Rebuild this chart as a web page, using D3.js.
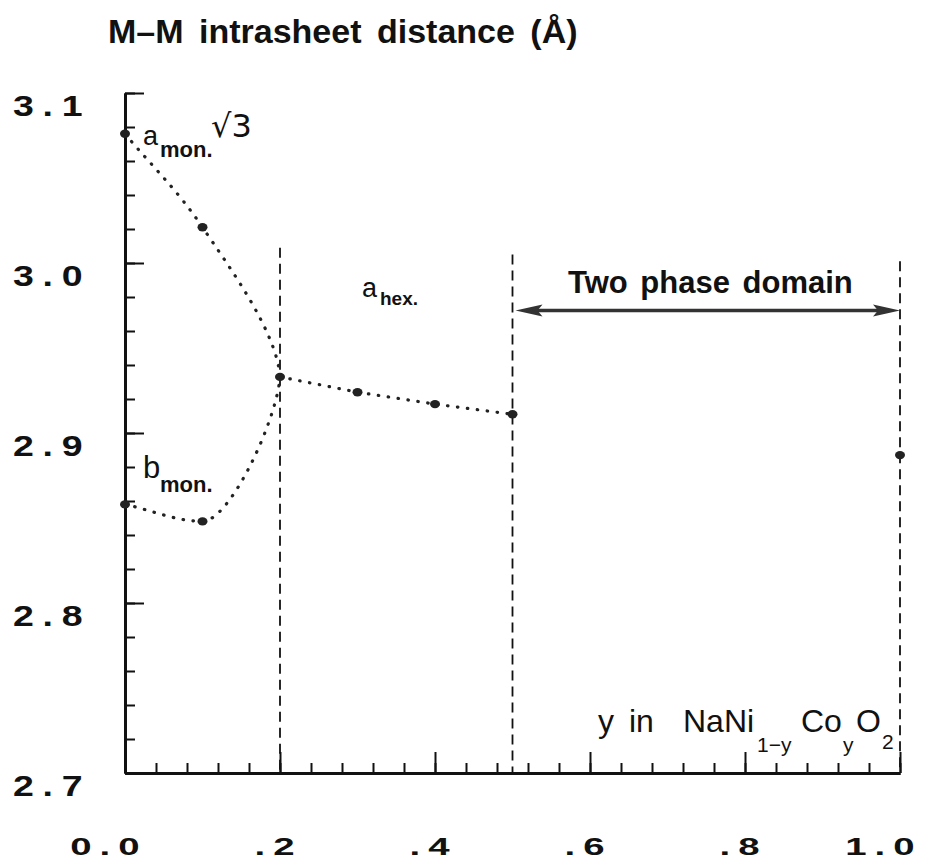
<!DOCTYPE html>
<html>
<head>
<meta charset="utf-8">
<script src="https://cdn.jsdelivr.net/npm/d3@7"></script>
<style>
  html, body { margin: 0; padding: 0; background: #ffffff; }
  svg { display: block; }
  text { font-family: "Liberation Sans", Arial, sans-serif; fill: #111; }
</style>
</head>
<body>
<svg id="chart" width="936" height="861"></svg>
<script>
// ---------------- data ----------------
const aMonX   = [0.0, 0.1, 0.2];
const aMonVal = [3.076, 3.021, 2.933];
const bMonX   = [0.0, 0.1, 0.2];
const bMonVal = [2.858, 2.848, 2.933];
const aHexX   = [0.2, 0.3, 0.4, 0.5];
const aHexVal = [2.933, 2.924, 2.917, 2.911];
const endX    = [1.0];
const endVal  = [2.887];
const boundaryX   = [0.2, 0.5, 1.0];
const boundaryTop = [3.009, 3.005, 3.001];
const twoPhaseRange = [0.5, 1.0];
const twoPhaseLevel = 2.972;
const yMajorTicks = [2.7, 2.8, 2.9, 3.0, 3.1];
const yTickLabels = ["2.7", "2.8", "2.9", "3.0", "3.1"];
const xMajorTicks = [0.0, 0.2, 0.4, 0.6, 0.8, 1.0];
const xTickLabels = ["0.0", ".2", ".4", ".6", ".8", "1.0"];

// ---------------- setup ----------------
const svg = d3.select("#chart");
const x = d3.scaleLinear().domain([0, 1]).range([125, 900]);
const y = d3.scaleLinear().domain([2.7, 3.1]).range([773, 93]);

const yMinor = d3.range(0, 21).map(i => +(2.7 + i * 0.02).toFixed(2));
const xMinor = d3.range(0, 26).map(i => +(i * 0.04).toFixed(2));

// ---------------- axes ----------------
const gy = svg.append("g").attr("transform", `translate(${x(0)},0)`);
gy.call(d3.axisLeft(y).tickValues(yMinor).tickSize(-10).tickSizeOuter(0).tickFormat(""));
const gyM = svg.append("g").attr("transform", `translate(${x(0)},0)`);
gyM.call(d3.axisLeft(y).tickValues(yMajorTicks).tickSize(-19).tickSizeOuter(0)
  .tickFormat((d, i) => yTickLabels[i]));

const gx = svg.append("g").attr("transform", `translate(0,${y(2.7)})`);
gx.call(d3.axisBottom(x).tickValues(xMinor).tickSize(-10).tickSizeOuter(0).tickFormat(""));
const gxM = svg.append("g").attr("transform", `translate(0,${y(2.7)})`);
gxM.call(d3.axisBottom(x).tickValues(xMajorTicks).tickSize(-21).tickSizeOuter(0)
  .tickFormat((d, i) => xTickLabels[i]));

[gy, gyM, gx, gxM].forEach(g => {
  g.selectAll(".tick line").attr("stroke", "#111").attr("stroke-width", 2);
  g.select(".domain").attr("stroke", "#111").attr("stroke-width", 3);
});

const sy = 1.25;
gyM.selectAll(".tick text")
  .attr("text-anchor", "start")
  .attr("font-family", "Liberation Sans, Arial, sans-serif")
  .attr("font-weight", "bold")
  .attr("font-size", 30)
  .attr("fill", "#111")
  .attr("letter-spacing", 7)
  .attr("dy", null)
  .attr("x", -112 / sy)
  .attr("y", 22)
  .attr("transform", `scale(${sy},1)`);

const sx = 1.6;
gxM.selectAll(".tick text")
  .attr("text-anchor", "end")
  .attr("font-family", "Liberation Sans, Arial, sans-serif")
  .attr("font-weight", "bold")
  .attr("font-size", 24)
  .attr("fill", "#111")
  .attr("letter-spacing", 5)
  .attr("dy", null)
  .attr("x", 22 / sx)
  .attr("y", 82)
  .attr("transform", `scale(${sx},1)`);

// ---------------- boundaries ----------------
svg.append("g").selectAll("line").data(boundaryX).join("line")
  .attr("x1", d => x(d)).attr("x2", d => x(d))
  .attr("y1", (d, i) => y(boundaryTop[i])).attr("y2", y(2.7))
  .attr("stroke", "#111").attr("stroke-width", 1.8)
  .attr("stroke-dasharray", "10,6");

// ---------------- two phase arrow ----------------
const ay = y(twoPhaseLevel);
const xl = x(twoPhaseRange[0]) + 3, xr = x(twoPhaseRange[1]);
svg.append("line").attr("x1", xl + 20).attr("x2", xr - 20).attr("y1", ay).attr("y2", ay)
  .attr("stroke", "#333").attr("stroke-width", 3.5);
svg.append("path").attr("d", `M${xl},${ay} L${xl + 27},${ay - 6} L${xl + 22},${ay} L${xl + 27},${ay + 6} Z`)
  .attr("fill", "#333");
svg.append("path").attr("d", `M${xr},${ay} L${xr - 27},${ay - 6} L${xr - 22},${ay} L${xr - 27},${ay + 6} Z`)
  .attr("fill", "#333");

// ---------------- curves ----------------
// monotone-like curve whose last segment arrives almost vertically (phase convergence)
function curveToVertical(context) {
  let pts;
  return {
    areaStart() {}, areaEnd() {},
    lineStart() { pts = []; },
    point(px, py) { pts.push([+px, +py]); },
    lineEnd() {
      const n = pts.length;
      if (!n) return;
      const s = [];
      for (let i = 0; i < n - 1; i++) s.push((pts[i + 1][1] - pts[i][1]) / (pts[i + 1][0] - pts[i][0]));
      const m = pts.map((p, i) => i === 0 ? s[0] : i === n - 1 ? s[n - 2]
        : (s[i - 1] * s[i] <= 0 ? 0 : 2 * s[i - 1] * s[i] / (s[i - 1] + s[i])));
      context.moveTo(pts[0][0], pts[0][1]);
      for (let i = 0; i < n - 1; i++) {
        const [x0, y0] = pts[i], [x1, y1] = pts[i + 1];
        const h = (x1 - x0) / 3;
        if (i === n - 2) {
          const dy = y1 - y0;
          context.bezierCurveTo(x0 + 1.05 * h, y0 + m[i] * 1.05 * h, x1 - 0.12 * h, y1 - 0.3 * dy, x1, y1);
        } else {
          context.bezierCurveTo(x0 + h, y0 + m[i] * h, x1 - h, y1 - m[i + 1] * h, x1, y1);
        }
      }
    }
  };
}

const dotted = (sel) => sel.attr("fill", "none").attr("stroke", "#222")
  .attr("stroke-width", 3.2).attr("stroke-linecap", "round")
  .attr("stroke-dasharray", "0.5,9.5");

const curveLine = d3.line().x(d => x(d[0])).y(d => y(d[1])).curve(curveToVertical);
const straight = d3.line().x(d => x(d[0])).y(d => y(d[1]));

const aMon = aMonX.map((v, i) => [v, aMonVal[i]]);
const bMon = bMonX.map((v, i) => [v, bMonVal[i]]);
const aHex = aHexX.map((v, i) => [v, aHexVal[i]]);
const endPts = endX.map((v, i) => [v, endVal[i]]);

svg.append("path").attr("d", curveLine(aMon)).call(dotted);
svg.append("path").attr("d", curveLine(bMon)).call(dotted);
svg.append("path").attr("d", straight(aHex)).call(dotted);

// ---------------- points ----------------
const allPts = [...aMon.slice(0, 2), ...bMon.slice(0, 2), ...aHex, ...endPts];
svg.append("g").selectAll("ellipse").data(allPts).join("ellipse")
  .attr("cx", d => x(d[0])).attr("cy", d => y(d[1]))
  .attr("rx", 5).attr("ry", 4.2)
  .attr("fill", "#222");

// ---------------- texts ----------------
svg.append("text").attr("x", 108).attr("y", 43).attr("font-size", 34)
  .attr("font-weight", "bold").attr("word-spacing", 6)
  .text("M–M intrasheet distance (Å)");

svg.append("text").attr("x", 568).attr("y", 293).attr("font-size", 31)
  .attr("font-weight", "bold").attr("word-spacing", 4)
  .text("Two phase domain");

// a_mon / sqrt(3)
const t1 = svg.append("text").attr("y", 145);
t1.append("tspan").attr("x", 143).attr("font-size", 27).text("a");
t1.append("tspan").attr("x", 160).attr("y", 157).attr("font-size", 22).attr("font-weight", "bold").text("mon.");
t1.append("tspan").attr("x", 211).attr("y", 137).attr("font-size", 32)
  .attr("font-family", "DejaVu Sans, sans-serif").text("√3");

// b_mon
const t2 = svg.append("text").attr("y", 478);
t2.append("tspan").attr("x", 143).attr("font-size", 31).text("b");
t2.append("tspan").attr("x", 160).attr("y", 492).attr("font-size", 22).attr("font-weight", "bold").text("mon.");

// a_hex
const t3 = svg.append("text").attr("y", 297);
t3.append("tspan").attr("x", 362).attr("font-size", 27).text("a");
t3.append("tspan").attr("x", 380).attr("y", 305).attr("font-size", 19).attr("font-weight", "bold").text("hex.");

// x axis title
const t4 = svg.append("text").attr("y", 732).attr("font-size", 32);
t4.append("tspan").attr("x", 598).text("y");
t4.append("tspan").attr("x", 629).text("in");
t4.append("tspan").attr("x", 683).text("NaNi");
t4.append("tspan").attr("x", 757).attr("y", 752).attr("font-size", 21).text("1−y");
t4.append("tspan").attr("x", 801).attr("y", 732).text("Co");
t4.append("tspan").attr("x", 843).attr("y", 752).attr("font-size", 21).text("y");
t4.append("tspan").attr("x", 856).attr("y", 732).text("O");
t4.append("tspan").attr("x", 882).attr("y", 749).attr("font-size", 21).text("2");
</script>
</body>
</html>
